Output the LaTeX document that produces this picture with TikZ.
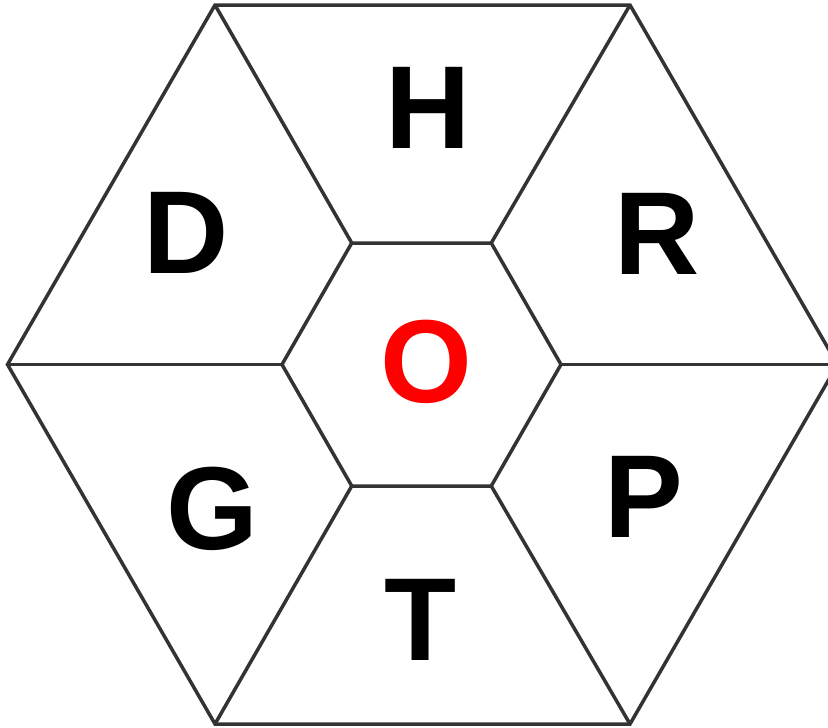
\documentclass[tikz,border=0pt]{standalone}
\usepackage{fontspec}
\setmainfont{Liberation Sans}
\definecolor{edge}{HTML}{333333}
\definecolor{hot}{HTML}{FF0000}
\begin{document}
\begin{tikzpicture}[x=1pt,y=-1pt,
  edgeline/.style={draw=edge,line width=3.5pt,line join=miter},
  letter/.style={inner sep=0pt,anchor=center,font=\fontsize{118}{118}\selectfont\bfseries}]
\useasboundingbox (0,0) rectangle (828,728);
% outer hexagon
\coordinate (o0) at (837.5,364.5);
\coordinate (o1) at (630,5);
\coordinate (o2) at (215,5);
\coordinate (o3) at (7.5,364.5);
\coordinate (o4) at (215,724);
\coordinate (o5) at (630,724);
% inner hexagon
\coordinate (i0) at (561,364.5);
\coordinate (i1) at (491.25,243);
\coordinate (i2) at (351.75,243);
\coordinate (i3) at (282,364.5);
\coordinate (i4) at (351.75,486);
\coordinate (i5) at (491.25,486);
\draw[edgeline] (o0) -- (o1) -- (o2) -- (o3) -- (o4) -- (o5) -- cycle;
\draw[edgeline] (i0) -- (i1) -- (i2) -- (i3) -- (i4) -- (i5) -- cycle;
\foreach \k in {0,...,5} \draw[edgeline] (i\k) -- (o\k);
% letters
\node[letter] (h) at (428,108) {H};
\node[letter] (d) at (186,233) {D};
\node[letter] (r) at (657,234) {R};
\node[letter] (g) at (212,509) {G};
\node[letter] (p) at (644,497) {P};
\node[letter] (t) at (421,620) {T};
\node[letter,text=hot] (c) at (426,362) {O};
\end{tikzpicture}
\end{document}
